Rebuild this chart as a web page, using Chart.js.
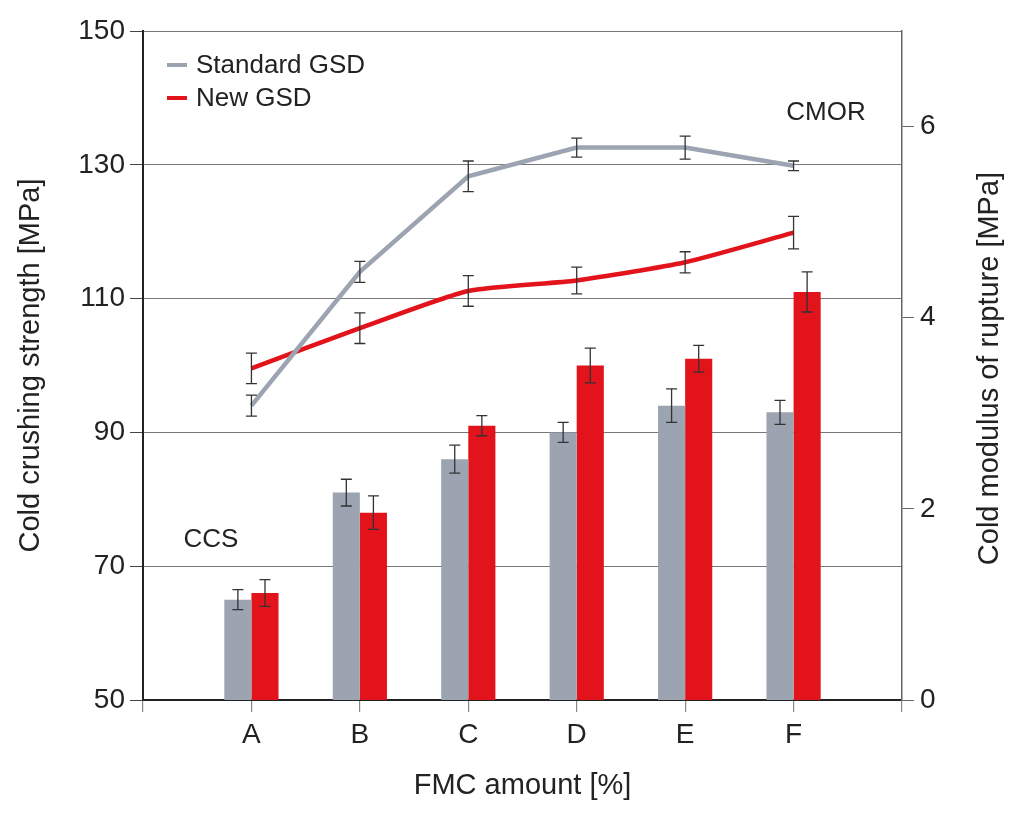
<!DOCTYPE html>
<html>
<head>
<meta charset="utf-8">
<script src="https://cdn.jsdelivr.net/npm/chart.js@4.4.1/dist/chart.umd.min.js"></script>
<style>
 html,body{margin:0;padding:0;background:#fff;}
 #wrap{width:1024px;height:816px;}
</style>
</head>
<body>
<div id="wrap"><canvas id="chart" width="1024" height="816"></canvas></div>
<script>
// categories and values
const categories = ['A','B','C','D','E','F'];

// CCS bars, left axis [MPa]
const ccsStandard    = [65, 81, 86, 90, 94, 93];
const ccsStandardErr = [1.5, 2, 2.1, 1.5, 2.5, 1.8];
const ccsNew         = [66, 78, 91, 100, 101, 111];
const ccsNewErr      = [2, 2.5, 1.5, 2.6, 2, 3];

// CMOR lines, right axis [MPa]
const cmorStandard    = [3.08, 4.48, 5.48, 5.78, 5.78, 5.59];
const cmorStandardErr = [0.11, 0.11, 0.16, 0.1, 0.12, 0.05];
const cmorNew         = [3.47, 3.89, 4.28, 4.39, 4.58, 4.89];
const cmorNewErr      = [0.16, 0.16, 0.16, 0.14, 0.11, 0.17];

const leftTicks  = [50, 70, 90, 110, 130, 150];
const rightTicks = [0, 2, 4, 6];

const GRAY = '#9ba4b0';
const RED  = '#e3131c';
const FONT = "'Liberation Sans Narrow', 'Liberation Sans', Arial, sans-serif";

// one empty slot on each side so the categories sit at 1..6 of 0..7
const pad = arr => [null, ...arr, null];
const labels = ['', ...categories, ''];

Chart.defaults.font.family = FONT;
Chart.defaults.color = '#222';

const errorBars = {
  id: 'errorBars',
  afterDatasetsDraw(chart){
    const ctx = chart.ctx;
    ctx.save();
    ctx.strokeStyle = '#333';
    ctx.lineWidth = 1.3;
    chart.data.datasets.forEach((ds, di) => {
      if(!ds.err) return;
      const meta = chart.getDatasetMeta(di);
      const sc = chart.scales[ds.yAxisID];
      meta.data.forEach((el, i) => {
        const v = ds.data[i], e = ds.err[i];
        if(v == null || e == null) return;
        const x = el.x;
        const y1 = sc.getPixelForValue(v + e), y2 = sc.getPixelForValue(v - e);
        ctx.beginPath();
        ctx.moveTo(x, y1); ctx.lineTo(x, y2);
        ctx.moveTo(x - 5.5, y1); ctx.lineTo(x + 5.5, y1);
        ctx.moveTo(x - 5.5, y2); ctx.lineTo(x + 5.5, y2);
        ctx.stroke();
      });
    });
    ctx.restore();
  }
};

const extras = {
  id: 'extras',
  afterDraw(chart){
    const ctx = chart.ctx, a = chart.chartArea;
    ctx.save();
    // legend
    const items = chart.data.datasets.filter(d => d.type === 'line');
    items.forEach((d, i) => {
      const y = a.top + 34 + i * 33;
      ctx.strokeStyle = d.borderColor;
      ctx.lineWidth = 4;
      ctx.beginPath();
      ctx.moveTo(a.left + 24, y); ctx.lineTo(a.left + 44, y);
      ctx.stroke();
      ctx.fillStyle = '#222';
      ctx.font = '26px ' + FONT;
      ctx.textBaseline = 'middle';
      ctx.textAlign = 'left';
      ctx.fillText(d.label, a.left + 53, y + 1);
    });
    // series annotations
    ctx.font = '26px ' + FONT;
    ctx.textAlign = 'center';
    ctx.textBaseline = 'middle';
    ctx.fillText('CCS', a.left + 68, 540);
    ctx.fillText('CMOR', a.right - 76, 113);
    // right axis title, reading bottom to top
    ctx.font = '29px ' + FONT;
    ctx.translate(990, (a.top + a.bottom) / 2 + 3);
    ctx.rotate(-Math.PI / 2);
    ctx.fillText('Cold modulus of rupture [MPa]', 0, 0);
    ctx.restore();
  }
};

new Chart(document.getElementById('chart'), {
  type: 'bar',
  data: {
    labels: labels,
    datasets: [
      {type:'line', label:'Standard GSD', data:pad(cmorStandard), err:pad(cmorStandardErr),
       yAxisID:'y1', borderColor:GRAY, borderWidth:4.5, pointRadius:0, tension:0, order:0},
      {type:'line', label:'New GSD', data:pad(cmorNew), err:pad(cmorNewErr),
       yAxisID:'y1', borderColor:RED, borderWidth:4.5, pointRadius:0, tension:0.2, order:0},
      {label:'CCS Standard GSD', data:pad(ccsStandard), err:pad(ccsStandardErr),
       yAxisID:'y', backgroundColor:GRAY, order:1},
      {label:'CCS New GSD', data:pad(ccsNew), err:pad(ccsNewErr),
       yAxisID:'y', backgroundColor:RED, order:1}
    ]
  },
  options: {
    responsive: false,
    animation: false,
    layout: { padding: { top: 31, left: 0, right: 0, bottom: 0 } },
    datasets: { bar: { categoryPercentage: 0.5, barPercentage: 1.0 } },
    plugins: { legend: { display: false }, tooltip: { enabled: false } },
    scales: {
      x: {
        offset: false,
        grid: { offset: false, drawOnChartArea: false, color: '#888', lineWidth: 1.2, tickLength: 12 },
        border: { color: '#222', width: 2 },
        ticks: { font: { size: 28 }, padding: 6, maxRotation: 0, autoSkip: false },
        title: { display: true, text: 'FMC amount [%]', font: { size: 29 }, padding: { top: 0, bottom: 13 } },
        afterFit: s => { s.height = 116; }
      },
      y: {
        position: 'left',
        min: 50, max: 150,
        afterBuildTicks: s => { s.ticks = leftTicks.map(v => ({ value: v })); },
        grid: { color: '#777', lineWidth: 1, tickColor: '#444', tickLength: 13 },
        border: { color: '#222', width: 2 },
        ticks: { font: { size: 28 }, padding: 5 },
        title: { display: true, text: 'Cold crushing strength [MPa]', font: { size: 29 }, padding: { top: 14, bottom: 0 } },
        afterFit: s => { s.width = 143; }
      },
      y1: {
        position: 'right',
        min: 0, max: 7,
        afterBuildTicks: s => { s.ticks = rightTicks.map(v => ({ value: v })); },
        grid: { drawOnChartArea: false, color: '#666', tickLength: 12 },
        border: { color: '#666', width: 1.5 },
        ticks: { font: { size: 28 }, padding: 6 },
        afterFit: s => { s.width = 122; }
      }
    }
  },
  plugins: [errorBars, extras]
});
</script>
</body>
</html>
